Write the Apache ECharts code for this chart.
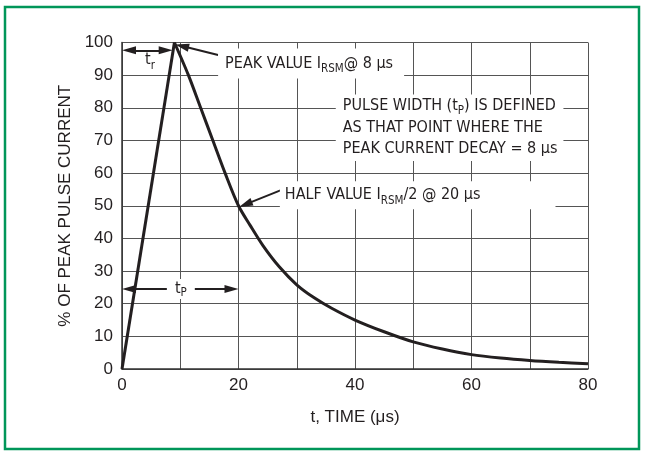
<!DOCTYPE html>
<html>
<head>
<meta charset="utf-8">
<style>
html,body{margin:0;padding:0;background:#fff;}
#chart{width:645px;height:455px;}
</style>
<script src="https://cdn.jsdelivr.net/npm/echarts@6/dist/echarts.min.js"></script>
</head>
<body>
<div id="chart"></div>
<script>
// ---- data ----
const riseTime = [0, 9];
const risePct = [0, 100];
const decayTime = [9, 11.4, 13.5, 15.6, 17.7, 20, 22, 24.2, 27, 30, 33, 36, 40, 45, 50, 55, 60, 65, 70, 75, 80];
const decayPct = [100, 90, 80, 70, 60, 50, 44, 37.8, 31.3, 25.8, 21.8, 18.6, 15, 11.4, 8.3, 6.1, 4.4, 3.35, 2.6, 2.05, 1.6];
const xLabelStep = 20;
const yTitle = '% OF PEAK PULSE CURRENT';
const xTitle = 't, TIME (\u03bcs)';

// arrow annotations in data coordinates: [from, to, startSymbol, endSymbol]
const arrows = [
  [[1.2, 97.6], [7.5, 97.6], 'triangle', 'triangle'],   // t_r
  [[16.5, 96.2], [10.3, 98.9], 'none', 'triangle'],     // peak value
  [[27.3, 54.8], [21.2, 50.4], 'none', 'triangle'],     // half value
  [[7.7, 24.5], [1.2, 24.5], 'none', 'triangle'],       // t_P left
  [[12.5, 24.5], [18.8, 24.5], 'none', 'triangle']      // t_P right
];

const INK = '#231f20';
const SANS = "'Liberation Sans', Arial, Helvetica, sans-serif";
const NARROW = "'Liberation Sans Narrow', 'Arial Narrow', 'DejaVu Sans Condensed', sans-serif";

const chart = echarts.init(document.getElementById('chart'), null, {renderer: 'canvas'});

function zip(a, b) { return a.map((v, i) => [v, b[i]]); }

const lineStyle = {color: INK, width: 3};

const option = {
  animation: false,
  backgroundColor: '#fff',
  grid: {left: 122, right: 57, top: 42.5, bottom: 86},
  xAxis: {
    type: 'value', min: 0, max: 80, interval: 10,
    name: xTitle, nameLocation: 'middle', nameGap: 40,
    nameTextStyle: {fontFamily: SANS, fontSize: 17, color: INK},
    axisLine: {show: true, lineStyle: {color: '#333', width: 1.5}},
    axisTick: {show: false},
    axisLabel: {
      fontFamily: SANS, fontSize: 17, color: INK, margin: 8,
      formatter: v => (v % xLabelStep === 0 ? String(v) : '')
    },
    splitLine: {show: true, lineStyle: {color: '#555', width: 1}}
  },
  yAxis: {
    type: 'value', min: 0, max: 100, interval: 10,
    name: yTitle, nameLocation: 'middle', nameGap: 43, nameRotate: 90,
    nameTextStyle: {fontFamily: SANS, fontSize: 17, color: INK},
    axisLine: {show: true, lineStyle: {color: '#333', width: 1.5}},
    axisTick: {show: false},
    axisLabel: {fontFamily: SANS, fontSize: 17, color: INK, margin: 9},
    splitLine: {show: true, lineStyle: {color: '#555', width: 1}}
  },
  series: [
    {
      type: 'line', data: zip(riseTime, risePct), showSymbol: false, symbol: 'none',
      lineStyle: lineStyle, z: 5,
      markLine: {
        silent: true, animation: false, precision: 2,
        label: {show: false},
        lineStyle: {color: INK, width: 2, type: 'solid'},
        symbolSize: [8, 14],
        data: arrows.map(a => [
          {coord: a[0], symbol: a[2], symbolSize: [8, 14]},
          {coord: a[1], symbol: a[3], symbolSize: [8, 14]}
        ])
      }
    },
    {
      type: 'line', data: zip(decayTime, decayPct), showSymbol: false, symbol: 'none',
      smooth: 0.3, lineStyle: lineStyle, z: 5
    }
  ]
};
chart.setOption(option);

// ---- text annotations placed from data coordinates ----
const notes = [
  {at: [4.8, 94.6], text: 't{sub|r}', align: 'center', bg: null, pad: 0, lh: 24},
  {at: [16.5, 93.6], text: 'PEAK VALUE I{sub|RSM}@ 8 \u03bcs', align: 'left', bg: '#fff', pad: [3, 11, 3, 7], lh: 24},
  {at: [36.7, 73.9], text: 'PULSE WIDTH (t{sub|P}) IS DEFINED\nAS THAT POINT WHERE THE\nPEAK CURRENT DECAY = 8 \u03bcs', align: 'left', bg: '#fff', pad: [1, 6, 1, 7], lh: 21.5},
  {at: [27.1, 53.2], text: 'HALF VALUE I{sub|RSM}/2 @ 20 \u03bcs', align: 'left', bg: '#fff', pad: [2, 75, 2, 5], lh: 24},
  {at: [10.1, 24.5], text: 't{sub|P}', align: 'center', bg: '#fff', pad: [0, 5, 0, 5], lh: 20}
];

const graphics = [{
  type: 'rect', z: 100, silent: true,
  shape: {x: 5, y: 7, width: 634, height: 442},
  style: {fill: 'none', stroke: '#009659', lineWidth: 2.5}
}];

notes.forEach(n => {
  const p = chart.convertToPixel({gridIndex: 0}, n.at);
  const st = {
    text: n.text,
    fill: INK,
    fontFamily: NARROW,
    fontSize: 16,
    lineHeight: n.lh,
    align: n.align, textAlign: n.align,
    verticalAlign: 'middle', textVerticalAlign: 'middle',
    rich: {
      sub: {fontFamily: NARROW, fontSize: 11.5, fill: INK, color: INK, verticalAlign: 'bottom', lineHeight: n.lh}
    }
  };
  if (n.bg) { st.backgroundColor = n.bg; st.padding = n.pad; }
  graphics.push({type: 'text', x: p[0], y: p[1], z: 10, silent: true, style: st});
});

chart.setOption({graphic: graphics});
</script>
</body>
</html>
